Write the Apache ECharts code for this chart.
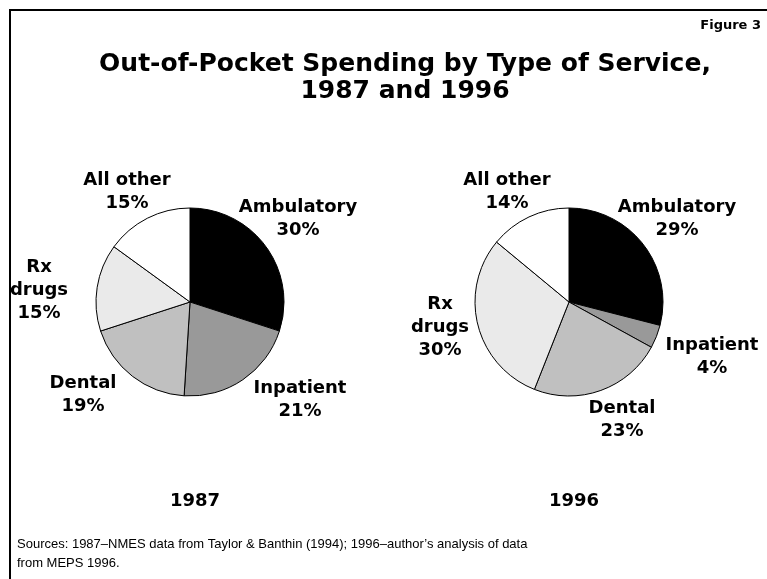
<!DOCTYPE html>
<html>
<head>
<meta charset="utf-8">
<script src="https://cdn.jsdelivr.net/npm/echarts@6/dist/echarts.min.js"></script>
<style>
html,body{margin:0;padding:0;background:#fff;}
#c{width:767px;height:579px;}
</style>
</head>
<body>
<div id="c"></div>
<script>
const categories = ["Ambulatory", "Inpatient", "Dental", "Rx drugs", "All other"];
const values1987 = [30, 21, 19, 15, 15];
const values1996 = [29, 4, 23, 30, 14];
const years = ["1987", "1996"];

const sliceColors = ["#000000", "#999999", "#c0c0c0", "#eaeaea", "#ffffff"];
const centers = [[190, 302], [569, 302]];
// label offsets from each pie's centre (layout only)
const labelOffsets = [
  [[108, -83], [110, 98], [-107, 93], [-151, -12], [-63, -110]],
  [[108, -83], [143, 55], [53, 118], [-129, 25], [-62, -110]]
];

const boldFont = "'DejaVu Sans', sans-serif";

function makePie(idx, vals) {
  return {
    type: 'pie',
    center: centers[idx],
    radius: 94,
    startAngle: 90,
    clockwise: true,
    silent: true,
    animation: false,
    data: categories.map((c, i) => ({
      name: c, value: vals[i],
      itemStyle: { color: sliceColors[i] }
    })),
    itemStyle: { borderColor: '#000', borderWidth: 1 },
    labelLine: { show: false },
    label: {
      show: true,
      position: 'outside',
      alignTo: 'none',
      overflow: 'none',
      bleedMargin: 0,
      formatter: p => (p.name === 'Rx drugs' ? 'Rx\ndrugs' : p.name) + '\n' + p.value + '%',
      fontFamily: boldFont,
      fontWeight: 'bold',
      fontSize: 18,
      lineHeight: 23,
      color: '#000',
      align: 'center'
    },
    labelLayout: function (p) {
      const o = labelOffsets[idx][p.dataIndex];
      return {
        x: centers[idx][0] + o[0],
        y: centers[idx][1] + o[1],
        align: 'center',
        verticalAlign: 'middle'
      };
    }
  };
}

const chart = echarts.init(document.getElementById('c'), null, { renderer: 'canvas' });
chart.setOption({
  backgroundColor: '#fff',
  animation: false,
  title: [
    {
      text: 'Out-of-Pocket Spending by Type of Service,\n1987 and 1996',
      left: 400, top: 46, textAlign: 'center',
      textStyle: { fontFamily: boldFont, fontWeight: 'bold', fontSize: 25, lineHeight: 27, color: '#000' }
    },
    {
      text: 'Figure 3',
      right: 1, top: 14,
      textStyle: { fontFamily: boldFont, fontWeight: 'bold', fontSize: 13, color: '#000' }
    },
    {
      text: years[0], left: centers[0][0], top: 487, textAlign: 'center',
      textStyle: { fontFamily: boldFont, fontWeight: 'bold', fontSize: 18, color: '#000' }
    },
    {
      text: years[1], left: centers[1][0], top: 487, textAlign: 'center',
      textStyle: { fontFamily: boldFont, fontWeight: 'bold', fontSize: 18, color: '#000' }
    },
    {
      text: 'Sources: 1987\u2013NMES data from Taylor & Banthin (1994); 1996\u2013author\u2019s analysis of data\nfrom MEPS 1996.',
      left: 12, top: 530,
      textStyle: { fontFamily: "'Liberation Sans', Arial, sans-serif", fontWeight: 'normal', fontSize: 13, lineHeight: 19, color: '#000' }
    }
  ],
  graphic: [
    {
      type: 'polyline',
      shape: { points: [[10, 579], [10, 10], [767, 10]] },
      style: { stroke: '#000', lineWidth: 2, fill: null },
      silent: true
    }
  ],
  series: [makePie(0, values1987), makePie(1, values1996)]
});
</script>
</body>
</html>
